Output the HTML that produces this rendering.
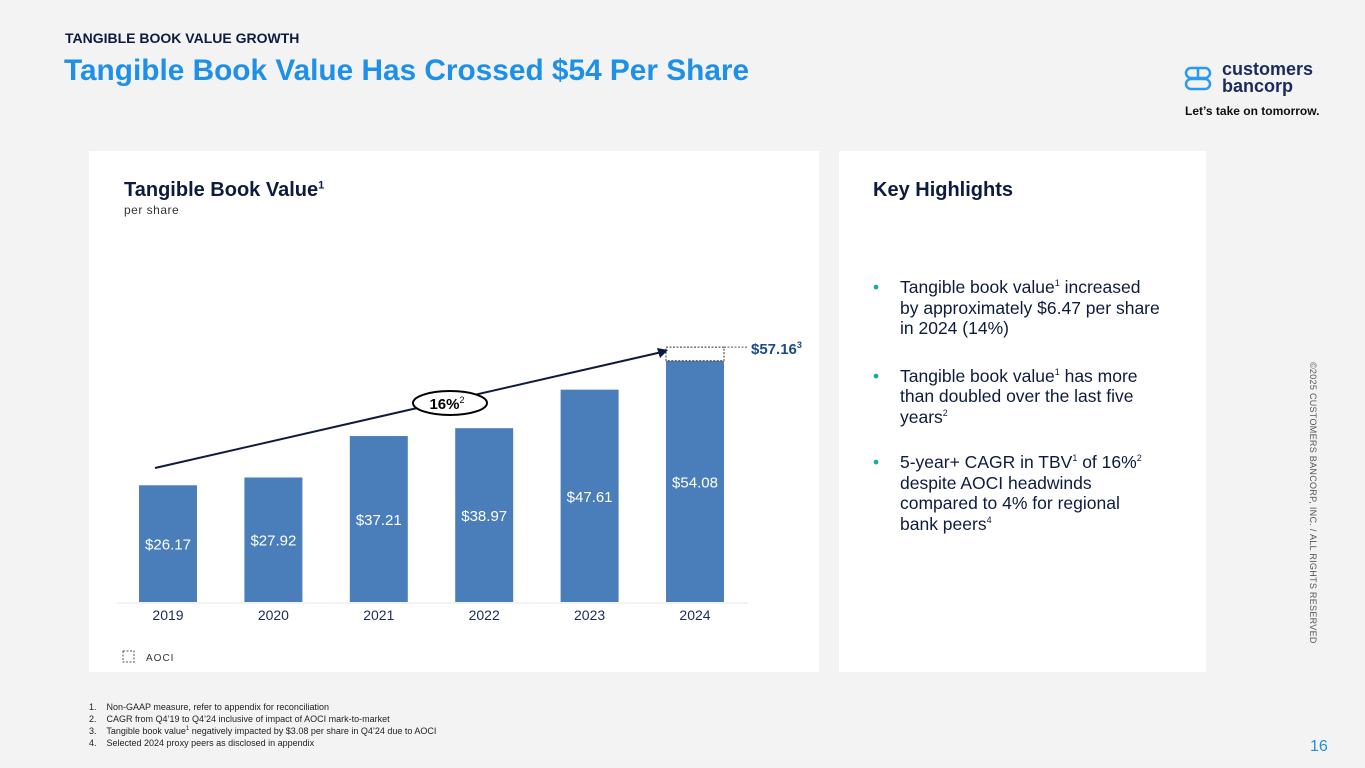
<!DOCTYPE html>
<html><head><meta charset="utf-8"><style>
body{margin:0;width:1365px;height:768px;background:#f3f3f3;font-family:"Liberation Sans",sans-serif;position:relative;overflow:hidden}
.abs{position:absolute}
</style></head><body>
<div class="abs" style="left:65px;top:30px;font-size:14px;font-weight:bold;color:#0d1b3e">TANGIBLE BOOK VALUE GROWTH</div>
<div class="abs" style="left:64px;top:54px;font-size:29.8px;font-weight:bold;color:#1e90e8">Tangible Book Value Has Crossed $54 Per Share</div>
<svg class="abs" style="left:1184px;top:66px" width="28" height="26"><rect x="2" y="2" width="24" height="10" rx="5" fill="none" stroke="#2a9af0" stroke-width="2.5"/><rect x="2" y="13" width="24" height="10" rx="5" fill="none" stroke="#2a9af0" stroke-width="2.5"/><line x1="14" y1="2" x2="14" y2="12" stroke="#2a9af0" stroke-width="2.5"/></svg>
<div class="abs" style="left:1222px;top:61px;font-size:18px;font-weight:bold;color:#1b2a5c;line-height:17px">customers<br>bancorp</div>
<div class="abs" style="left:1185px;top:104px;font-size:12px;font-weight:bold;color:#111">Let’s take on tomorrow.</div>

<div class="abs" style="left:89px;top:151px;width:730px;height:521px;background:#fff"></div>
<div class="abs" style="left:839px;top:151px;width:367px;height:521px;background:#fff"></div>
<div class="abs" style="left:124px;top:179px;font-size:20px;font-weight:bold;color:#0d1b3e">Tangible Book Value<sup style="font-size:11px">1</sup></div>
<div class="abs" style="left:124px;top:203px;font-size:12px;color:#333;letter-spacing:0.5px">per share</div>

<svg id="chart" class="abs" style="left:0;top:0" width="1365" height="768"></svg>

<div class="abs" style="left:873px;top:179px;font-size:20px;font-weight:bold;color:#0d1b3e">Key Highlights</div>
<div class="abs" style="left:873px;top:277px;width:330px;font-size:17.5px;color:#0d1b3e;line-height:20.5px;white-space:nowrap">
<div style="padding-left:27px;position:relative;margin-bottom:27px"><span style="position:absolute;left:0;color:#1aa9a0">•</span>Tangible book value<sup style="font-size:9px;line-height:0">1</sup> increased<br>by approximately $6.47 per share<br>in 2024 (14%)</div>
<div style="padding-left:27px;position:relative;margin-bottom:25px"><span style="position:absolute;left:0;color:#1aa9a0">•</span>Tangible book value<sup style="font-size:9px;line-height:0">1</sup> has more<br>than doubled over the last five<br>years<sup style="font-size:9px;line-height:0">2</sup></div>
<div style="padding-left:27px;position:relative"><span style="position:absolute;left:0;color:#1aa9a0">•</span>5-year+ CAGR in TBV<sup style="font-size:9px;line-height:0">1</sup> of 16%<sup style="font-size:9px;line-height:0">2</sup><br>despite AOCI headwinds<br>compared to 4% for regional<br>bank peers<sup style="font-size:9px;line-height:0">4</sup></div>
</div>
<div class="abs" style="left:89px;top:701px;font-size:9px;color:#222;line-height:12px">
1.&nbsp;&nbsp;&nbsp; Non-GAAP measure, refer to appendix for reconciliation<br>2.&nbsp;&nbsp;&nbsp; CAGR from Q4’19 to Q4’24 inclusive of impact of AOCI mark-to-market<br>3.&nbsp;&nbsp;&nbsp; Tangible book value<sup style="font-size:6px;line-height:0">1</sup> negatively impacted by $3.08 per share in Q4’24 due to AOCI<br>4.&nbsp;&nbsp;&nbsp; Selected 2024 proxy peers as disclosed in appendix</div>
<div class="abs" style="left:1310px;top:738px;font-size:16px;color:#1e90e8">16</div>
<div class="abs" style="left:1318px;top:362px;font-size:9px;color:#555;transform:rotate(90deg);transform-origin:0 0;white-space:nowrap;letter-spacing:0.3px">©2025 CUSTOMERS BANCORP, INC. / ALL RIGHTS RESERVED</div>

<script>
const categories=["2019","2020","2021","2022","2023","2024"];
const values=[26.17,27.92,37.21,38.97,47.61,54.08];
const labels=["$26.17","$27.92","$37.21","$38.97","$47.61","$54.08"];
const aociTotal=[57.16];
const NS="http://www.w3.org/2000/svg";
const svg=document.getElementById('chart');
const base=602,scale=4.46,x0=139,step=105.4,bw=58;
const xS=i=>x0+i*step, yS=v=>base-v*scale;
function mk(t,a){const e=document.createElementNS(NS,t);for(const k in a)e.setAttribute(k,a[k]);svg.appendChild(e);return e;}
let ax=mk('line',{x1:117,y1:base+1,x2:748,y2:base+1,stroke:'#e6e6e6','stroke-width':1});


values.forEach((v,i)=>{
 const r=mk('rect',{x:xS(i),y:yS(v),width:bw,height:v*scale,fill:'#4a7ebb'});
 
 
 const t=mk('text',{x:xS(i)+bw/2,y:yS(v/2)+6,'text-anchor':'middle','font-size':15,fill:'#fff','font-family':'Liberation Sans'});
 t.textContent=labels[i];
 
 
 const c=mk('text',{x:xS(i)+bw/2,y:620,'text-anchor':'middle','font-size':14,fill:'#1b2a5c','font-family':'Liberation Sans'});
 c.textContent=categories[i];
 
 
});
const li=values.length-1;
const ar=mk('rect',{x:xS(li),y:yS(aociTotal[0]),width:bw,height:(aociTotal[0]-values[li])*scale,fill:'#fff',stroke:'#333','stroke-dasharray':'2,1.5','stroke-width':1});


const dl=mk('line',{x1:xS(li)+bw,y1:yS(aociTotal[0]),x2:748,y2:yS(aociTotal[0]),stroke:'#555','stroke-dasharray':'2,1.5'});


const at=mk('text',{x:751,y:yS(aociTotal[0])+7,'font-size':15,'font-weight':'bold',fill:'#1b4a8a','font-family':'Liberation Sans'});
at.innerHTML='$57.16<tspan font-size="9" dy="-6">3</tspan>';


const arr=mk('line',{x1:155,y1:468,x2:662,y2:352,stroke:'#0d1b3e','stroke-width':2});


const ah=mk('polygon',{points:'668,350 657,348 660,358',fill:'#0d1b3e'});


const el=mk('ellipse',{cx:450,cy:403,rx:37,ry:12,fill:'#fff',stroke:'#000','stroke-width':2});


const et=mk('text',{x:447,y:409,'text-anchor':'middle','font-size':15,'font-weight':'bold',fill:'#000','font-family':'Liberation Sans'});
et.innerHTML='16%<tspan font-size="9" dy="-6" font-weight="normal">2</tspan>';


const lg=mk('rect',{x:123,y:651,width:11,height:11,fill:'none',stroke:'#555','stroke-dasharray':'2,1.5'});


const lt=mk('text',{x:146,y:661,'font-size':10,fill:'#333','letter-spacing':1,'font-family':'Liberation Sans'});
lt.textContent='AOCI';


</script>
</body></html>
